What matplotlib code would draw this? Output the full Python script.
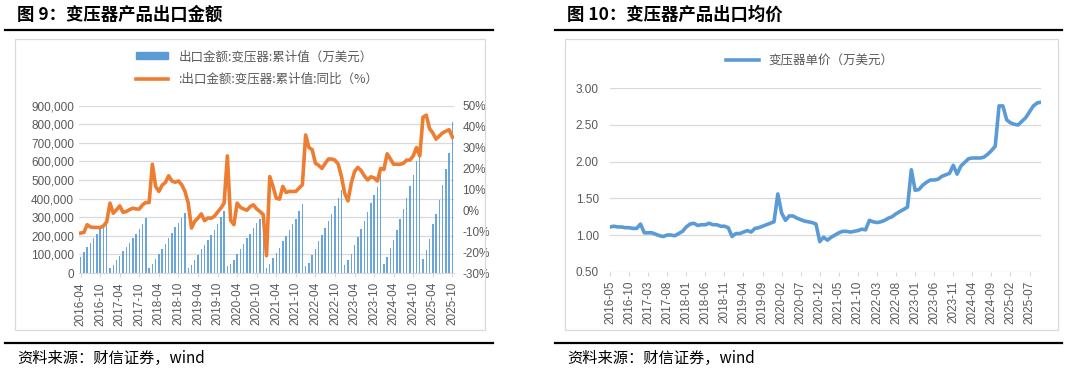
import numpy as np
import pandas as pd
import matplotlib
matplotlib.use("Agg")
import matplotlib.pyplot as plt
from matplotlib.lines import Line2D
from matplotlib.patches import Rectangle, Patch
from matplotlib.ticker import FuncFormatter

plt.rcParams['font.family'] = ['Liberation Sans', 'Noto Sans CJK SC']

# ---- data: left chart (monthly, 2016-04 .. 2025-10)
months_left = pd.period_range('2016-04', '2025-10', freq='M').strftime('%Y-%m').tolist()

# cumulative export value, 10k USD
export_cum = [
    87, 114, 141, 162, 189, 212, 236, 252, 266,                      # 2016 Apr-Dec
    27, 41, 70, 93, 118, 139, 162, 189, 212, 236, 264, 296,          # 2017
    25, 50, 75, 100, 129, 157, 189, 214, 245, 271, 296, 325,         # 2018
    29, 43, 71, 96, 127, 150, 180, 207, 234, 264, 300, 336,          # 2019
    37, 46, 68, 100, 127, 154, 186, 211, 243, 270, 292, 312,         # 2020
    25, 46, 82, 109, 132, 171, 198, 230, 261, 291, 332, 371,         # 2021
    36, 55, 95, 127, 171, 207, 243, 282, 318, 359, 404, 446,         # 2022
    41, 70, 104, 150, 193, 238, 282, 329, 377, 421, 461, 532,        # 2023
    50, 86, 136, 180, 234, 288, 346, 404, 466, 529, 600, 632,        # 2024
    73, 122, 181, 262, 315, 392, 474, 560, 646, 810,                 # 2025 Jan-Oct
]
export_cum = [v * 1000 for v in export_cum]

# cumulative YoY, %
export_yoy = [
    -10.9, -10.6, -6.9, -8.0, -8.2, -8.2, -8.3, -7.5, -5.5,
    3.4, -1.4, 0.2, 2.1, -1.0, -0.6, 0.3, 1.0, 0.6, 0.6, 2.6, 3.7,
    3.7, 22.0, 11.4, 9.0, 12.0, 13.3, 16.5, 14.0, 13.4, 14.0, 12.2, 9.0,
    3.4, -8.5, -5.3, -3.7, -1.7, -5.0, -3.7, -3.8, -2.9, -0.9, 1.0, 3.4,
    26.0, -4.8, -6.9, 3.4, 1.4, 0.6, 0.0, 1.8, 2.6, 0.6, -0.6, -2.1,
    -21.7, 16.1, 11.4, 5.8, 5.3, 11.4, 8.5, 9.0, 9.0, 9.0, 10.6, 12.2,
    36.0, 30.0, 29.0, 22.5, 21.5, 20.0, 22.4, 24.5, 24.5, 24.0, 22.0, 16.0,
    8.0, 4.5, 13.0, 18.5, 20.5, 19.0, 16.5, 14.5, 16.0, 15.5, 14.0, 20.0,
    19.5, 27.0, 24.5, 22.0, 22.0, 22.0, 22.5, 24.0, 24.0, 26.0, 30.0, 26.0,
    44.5, 45.5, 39.0, 37.0, 34.0, 35.5, 37.0, 37.8, 38.5, 35.0,
]

# ---- data: right chart (monthly, 2016-05 .. 2025-10)
months_right = pd.period_range('2016-05', '2025-10', freq='M').strftime('%Y-%m').tolist()
unit_price = [
    1.11, 1.12, 1.11, 1.11, 1.10, 1.10, 1.09, 1.09, 1.15, 1.03,
    1.03, 1.03, 1.01, 0.99, 0.98, 1.00, 1.00, 0.99, 1.02, 1.05,
    1.11, 1.15, 1.16, 1.13, 1.14, 1.14, 1.16, 1.14, 1.14, 1.12,
    1.12, 1.10, 0.98, 1.02, 1.02, 1.04, 1.06, 1.04, 1.09, 1.10,
    1.12, 1.14, 1.16, 1.18, 1.56, 1.30, 1.20, 1.26, 1.26, 1.23,
    1.21, 1.19, 1.18, 1.17, 1.15, 0.91, 0.97, 0.93, 0.97, 1.00,
    1.03, 1.05, 1.05, 1.04, 1.05, 1.06, 1.08, 1.07, 1.20, 1.18,
    1.17, 1.18, 1.20, 1.23, 1.25, 1.29, 1.32, 1.35, 1.38, 1.89,
    1.61, 1.62, 1.68, 1.72, 1.75, 1.75, 1.76, 1.80, 1.82, 1.84,
    1.95, 1.83, 1.94, 1.99, 2.04, 2.05, 2.05, 2.05, 2.06, 2.10,
    2.15, 2.21, 2.76, 2.76, 2.57, 2.53, 2.51, 2.50, 2.55, 2.60,
    2.68, 2.76, 2.80, 2.81,
]

BLUE = '#5B9BD5'
ORANGE = '#ED7D31'
GRAY = '#595959'
GRID = '#D9D9D9'
CJK = ['Noto Sans CJK SC', 'DejaVu Sans']

W, H = 1066, 373
fig = plt.figure(figsize=(W / 100, H / 100), dpi=100)


def fx(px):
    return px / W


def fy(py):
    return 1 - py / H


def style_axis(ax):
    for s in ['top', 'right', 'left']:
        ax.spines[s].set_visible(False)
    ax.spines['bottom'].set_color(GRID)
    ax.tick_params(axis='y', length=0, labelsize=8.5, labelcolor=GRAY)
    ax.tick_params(axis='x', length=3, color=GRID, labelsize=8.5,
                   labelcolor=GRAY, labelrotation=90)
    ax.grid(axis='y', color=GRID, lw=0.9)
    ax.set_axisbelow(True)


# ---------------- left chart
ax = fig.add_axes([fx(79), fy(273), fx(454 - 79), (273 - 105.7) / H])
x = np.arange(len(months_left))
ax.bar(x, export_cum, width=0.45, color=BLUE, alpha=0.9)
ax.set_xlim(-0.5, len(x) - 0.5)
ax.set_ylim(0, 900000)
ax.set_yticks(np.arange(0, 900001, 100000))
ax.yaxis.set_major_formatter(FuncFormatter(lambda v, p: '{:,.0f}'.format(v)))
ax.set_xticks(x[::6])
ax.set_xticklabels(months_left[::6])
style_axis(ax)

ax2 = ax.twinx()
ax2.plot(x, export_yoy, color=ORANGE, lw=2.6, solid_joinstyle='round')
ax2.set_ylim(-30, 50)
ax2.set_yticks(np.arange(-30, 51, 10))
ax2.yaxis.set_major_formatter(FuncFormatter(lambda v, p: '{:.0f}%'.format(v)))
for s in ax2.spines.values():
    s.set_visible(False)
ax2.tick_params(axis='y', length=0, labelsize=8.5, labelcolor=GRAY, pad=6)

handles = [Patch(color=BLUE), Line2D([0], [0], color=ORANGE, lw=2.6)]
labels = ['出口金额:变压器:累计值（万美元）', ':出口金额:变压器:累计值:同比（%）']
fig.legend(handles, labels, loc='center', bbox_to_anchor=(fx(257), fy(68)),
           frameon=False, prop={'family': CJK, 'size': 9}, labelcolor=GRAY,
           handlelength=2.6, handleheight=0.5, labelspacing=0.75)

# ---------------- right chart
bx = fig.add_axes([fx(610), fy(271.7), fx(1041 - 610), (271.7 - 88.3) / H])
xr = np.arange(len(months_right))
bx.plot(xr, unit_price, color=BLUE, lw=2.6, solid_joinstyle='round')
bx.set_xlim(0, len(xr) - 1)
bx.set_ylim(0.5, 3.0)
bx.set_yticks(np.arange(0.5, 3.01, 0.5))
bx.yaxis.set_major_formatter(FuncFormatter(lambda v, p: '{:.2f}'.format(v)))
bx.set_xticks(xr[::5])
bx.set_xticklabels(months_right[::5])
style_axis(bx)
bx.spines['bottom'].set_visible(False)
bx.tick_params(axis='y', pad=8)

fig.legend([Line2D([0], [0], color=BLUE, lw=2.6)], ['变压器单价（万美元）'],
           loc='center', bbox_to_anchor=(fx(810), fy(61)), frameon=False,
           prop={'family': CJK, 'size': 9}, labelcolor=GRAY, handlelength=2.6)

# ---------------- frames, titles, rules, sources
for x0, x1 in [(15, 485), (565, 1058)]:
    fig.add_artist(Rectangle((fx(x0), fy(330)), fx(x1 - x0), (330 - 39) / H,
                             transform=fig.transFigure, fill=False,
                             edgecolor=GRID, lw=0.9))

for x0, x1 in [(5, 493), (555, 1062)]:
    fig.add_artist(Line2D([fx(x0), fx(x1)], [fy(30), fy(30)],
                          transform=fig.transFigure, color='black', lw=1.6))
    fig.add_artist(Line2D([fx(x0), fx(x1)], [fy(343), fy(343)],
                          transform=fig.transFigure, color='black', lw=1.6))

fig.text(fx(17), fy(15), '图 9：变压器产品出口金额', family=CJK, fontsize=12.5,
         fontweight='bold', va='center', ha='left')
fig.text(fx(567), fy(15), '图 10：变压器产品出口均价', family=CJK, fontsize=12.5,
         fontweight='bold', va='center', ha='left')
fig.text(fx(17), fy(358), '资料来源：财信证券，wind', family=CJK, fontsize=11,
         style='italic', va='center', ha='left')
fig.text(fx(567), fy(358), '资料来源：财信证券，wind', family=CJK, fontsize=11,
         style='italic', va='center', ha='left')

fig.savefig('out.png', dpi=100)
